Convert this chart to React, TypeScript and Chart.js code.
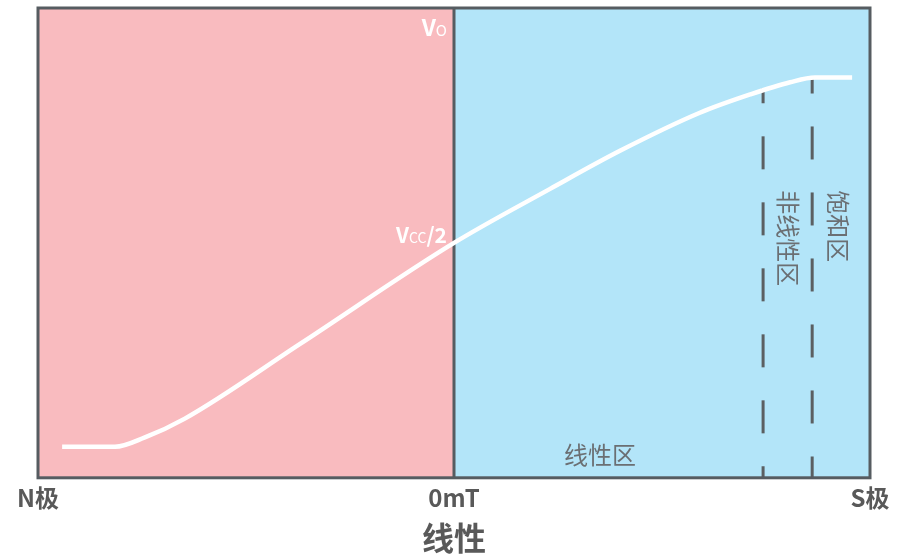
import React, { useEffect, useRef } from 'react';
import { Chart, registerables } from 'chart.js';

Chart.register(...registerables);

// ---- data ----
const tickValues = [-100, 0, 100];
const tickLabels = ['N极', '0mT', 'S极'];
const axisTitle = '线性';

const curveX = [-94.2, -81.5, -74.3, -64.7, -37.0, 0, 23.1, 39.9, 59.1, 71.2, 80.8, 86.8, 95.7];
const curveY = [6.6, 6.6, 8.6, 12.6, 28.5, 50, 61.5, 69.6, 77.7, 81.6, 84.2, 85.2, 85.2];

const boundaryX = [74.3, 86.1];
const boundaryTopY = [82.9, 85.0];

const regionLabels = ['线性区', '非线性区', '饱和区'];
const regionX = [35.1, 80.3, 92.3];
const regionY = [4.9, 61.2, 61.2];
const regionVertical = [false, true, true];

const voltMain = ['V', 'V'];
const voltSub = ['O', 'CC'];
const voltRest = ['', '/2'];
const voltY = [94, 50];

const FONT = '"Noto Sans CJK SC", "Noto Sans", sans-serif';
const PINK = '#F9BBBF';
const BLUE = '#B3E5F9';
const FRAME = '#565C61';

const decorPlugin = {
  id: 'decor',
  beforeDatasetsDraw(chart: any) {
    const { ctx, chartArea: a, scales } = chart;
    const x0 = scales.x.getPixelForValue(0);
    ctx.save();
    ctx.fillStyle = PINK;
    ctx.fillRect(a.left, a.top, x0 - a.left, a.bottom - a.top);
    ctx.fillStyle = BLUE;
    ctx.fillRect(x0, a.top, a.right - x0, a.bottom - a.top);
    ctx.strokeStyle = FRAME;
    ctx.lineWidth = 3;
    ctx.beginPath();
    ctx.moveTo(x0, a.top);
    ctx.lineTo(x0, a.bottom);
    ctx.stroke();
    ctx.restore();
  },
  afterDatasetsDraw(chart: any) {
    const { ctx, chartArea: a, scales } = chart;
    const xs = scales.x;
    const ys = scales.y;
    ctx.save();
    // frame
    ctx.strokeStyle = FRAME;
    ctx.lineWidth = 3;
    ctx.strokeRect(a.left, a.top, a.right - a.left, a.bottom - a.top);

    // voltage labels (right aligned against the 0 line)
    const right = xs.getPixelForValue(0) - 7;
    for (let i = 0; i < voltMain.length; i++) {
      const base = ys.getPixelForValue(voltY[i]);
      const big = i === 0 ? 23 : 21;
      const small = i === 0 ? 15 : 14;
      ctx.textBaseline = 'alphabetic';
      ctx.fillStyle = '#FFFFFF';
      ctx.font = `bold ${big}px ${FONT}`;
      const wRest = ctx.measureText(voltRest[i]).width;
      const wMain = ctx.measureText(voltMain[i]).width;
      ctx.font = `${small}px ${FONT}`;
      const wSub = ctx.measureText(voltSub[i]).width;
      let x = right - wRest - wSub - wMain;
      ctx.font = `bold ${big}px ${FONT}`;
      ctx.textAlign = 'left';
      ctx.fillText(voltMain[i], x, base);
      x += wMain;
      ctx.font = `${small}px ${FONT}`;
      ctx.fillText(voltSub[i], x, base);
      x += wSub;
      ctx.font = `bold ${big}px ${FONT}`;
      ctx.fillText(voltRest[i], x, base);
    }

    // region labels
    ctx.fillStyle = '#6B6F73';
    ctx.font = `24px ${FONT}`;
    for (let i = 0; i < regionLabels.length; i++) {
      const px = xs.getPixelForValue(regionX[i]);
      const py = ys.getPixelForValue(regionY[i]);
      if (regionVertical[i]) {
        ctx.save();
        ctx.translate(px, py);
        ctx.rotate(Math.PI / 2);
        ctx.textAlign = 'left';
        ctx.textBaseline = 'middle';
        ctx.fillText(regionLabels[i], 0, 0);
        ctx.restore();
      } else {
        ctx.textAlign = 'center';
        ctx.textBaseline = 'middle';
        ctx.fillText(regionLabels[i], px, py);
      }
    }
    ctx.restore();
  },
};

export default function App() {
  const ref = useRef<HTMLCanvasElement | null>(null);

  useEffect(() => {
    document.body.style.margin = '0';
    if (!ref.current) return;
    const boundarySets = boundaryX.map((bx, i) => ({
      type: 'line' as const,
      data: [
        { x: bx, y: boundaryTopY[i] },
        { x: bx, y: 0 },
      ],
      borderColor: '#5B5F62',
      borderWidth: 3,
      borderDash: [33, 33],
      borderDashOffset: 18,
      pointRadius: 0,
      fill: false,
      order: 2,
    }));
    const chart = new Chart(ref.current, {
      type: 'line',
      data: {
        datasets: [
          {
            data: curveX.map((x, i) => ({ x, y: curveY[i] })),
            borderColor: '#FFFFFF',
            borderWidth: 4.5,
            pointRadius: 0,
            cubicInterpolationMode: 'monotone',
            fill: false,
            order: 1,
          },
          ...boundarySets,
        ],
      },
      options: {
        responsive: false,
        animation: false,
        devicePixelRatio: 1,
        layout: { padding: { left: 38, right: 29, top: 8, bottom: 0 } },
        plugins: {
          legend: { display: false },
          tooltip: { enabled: false },
        },
        scales: {
          x: {
            type: 'linear',
            min: -100,
            max: 100,
            afterBuildTicks: (scale: any) => {
              scale.ticks = tickValues.map((v) => ({ value: v }));
            },
            ticks: {
              autoSkip: false,
              maxRotation: 0,
              padding: 6,
              color: '#595959',
              font: { family: FONT, size: 24, weight: 'bold' },
              callback: (v: any) => {
                const idx = tickValues.indexOf(Number(v));
                return idx >= 0 ? tickLabels[idx] : '';
              },
            },
            grid: { display: false, drawTicks: false },
            border: { display: false },
            title: {
              display: true,
              text: axisTitle,
              color: '#595959',
              font: { family: FONT, size: 32, weight: 'bold' },
              padding: { top: 0, bottom: 0 },
            },
          },
          y: {
            type: 'linear',
            min: 0,
            max: 100,
            display: false,
          },
        },
      },
      plugins: [decorPlugin],
    });
    return () => chart.destroy();
  }, []);

  return (
    <div style={{ width: 899, height: 557 }}>
      <canvas ref={ref} width={899} height={557} />
    </div>
  );
}
